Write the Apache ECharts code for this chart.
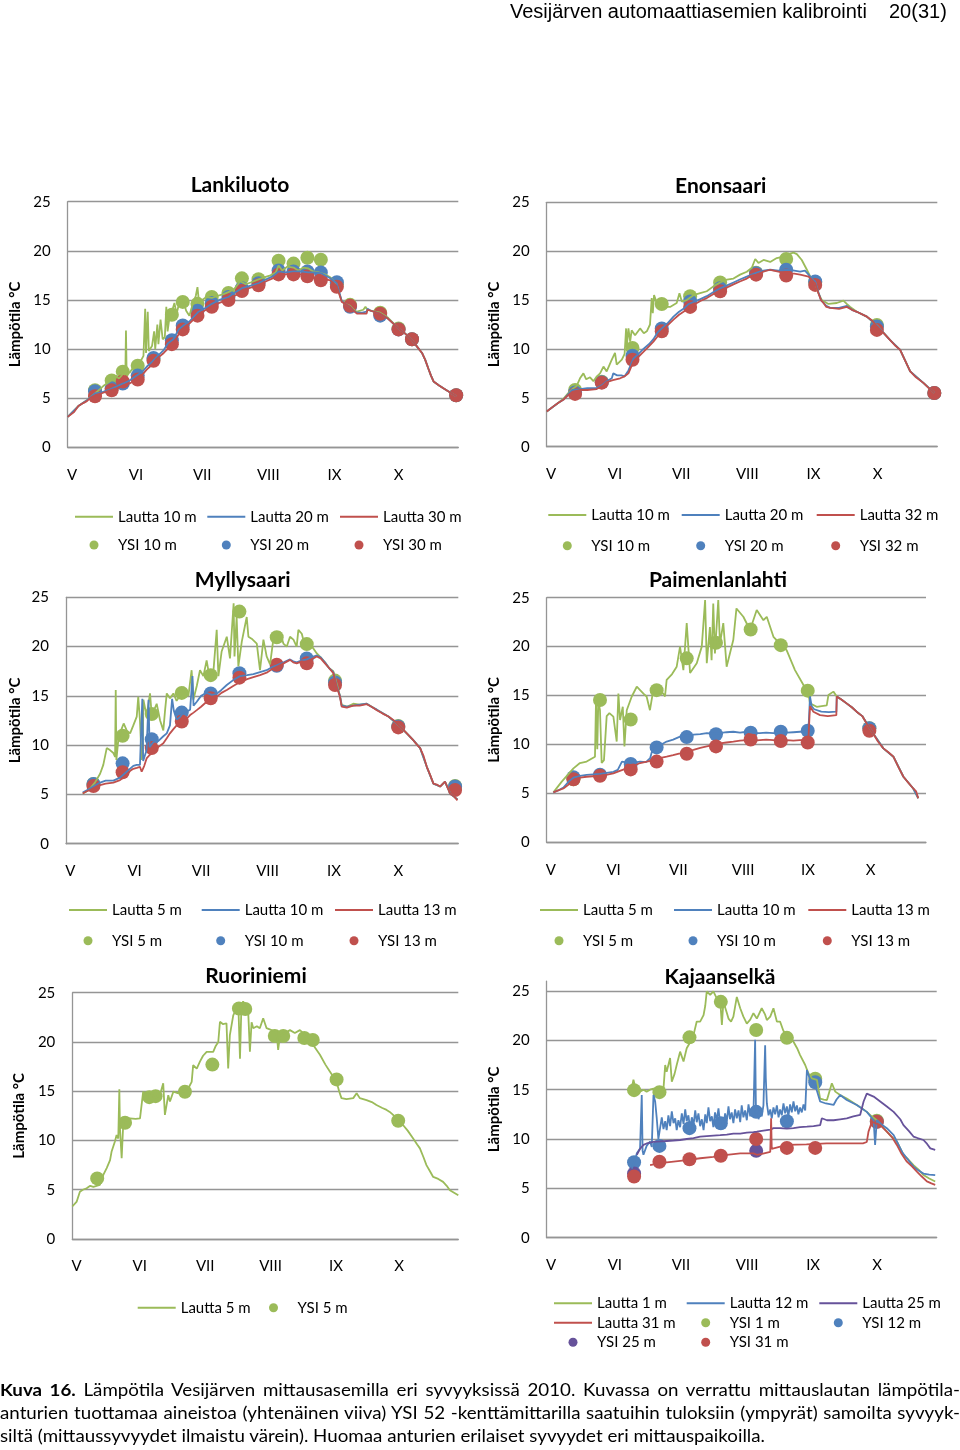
<!DOCTYPE html>
<html><head><meta charset="utf-8">
<script src="https://cdn.jsdelivr.net/npm/echarts@6/dist/echarts.min.js"></script>
<style>
html,body{margin:0;padding:0;background:#fff;}
#wrap{position:relative;width:960px;height:1450px;overflow:hidden;background:#fff;}
#chart{position:absolute;left:0;top:0;width:960px;height:1450px;}
.hdr{position:absolute;top:0;font-family:'Liberation Sans',Arial,sans-serif;font-size:20px;line-height:22px;color:#000;white-space:nowrap;}
#cap{position:absolute;left:0;top:1378px;font-family:Lato,sans-serif;font-size:17px;line-height:23px;color:#000;transform-origin:0 0;}
#cap .j{text-align:justify;text-align-last:justify;}
</style></head><body>
<div id="wrap">
<div id="chart"></div>
<div class="hdr" style="left:510px">Vesijärven automaattiasemien kalibrointi</div>
<div class="hdr" style="left:889px">20(31)</div>
<div id="cap">
<div class="j" id="c1"><b>Kuva 16.</b> Lämpötila Vesijärven mittausasemilla eri syvyyksissä 2010. Kuvassa on verrattu mittauslautan lämpötila-</div>
<div class="j" id="c2">anturien tuottamaa aineistoa (yhtenäinen viiva) YSI 52 -kenttämittarilla saatuihin tuloksiin (ympyrät) samoilta syvyyk-</div>
<div id="c3">siltä (mittaussyvyydet ilmaistu värein). Huomaa anturien erilaiset syvyydet eri mittauspaikoilla.</div>
</div>
</div>
<script>
// x values: days from the left edge of each plot (~29 April 2010); y: temperature °C
const monthTicks = [2, 32, 63, 94, 125, 155];
const monthLabels = ['V', 'VI', 'VII', 'VIII', 'IX', 'X'];

// ---------- Lankiluoto ----------
const lankiluotoLautta10 = [[0,3.1],[5,4.2],[9,4.8],[12.9,5.5],[15,5.9],[17,6.3],[19,6.6],[21,6.9],[22.5,7.3],[24,7.0],[26,7.5],[27,7.4],[27.3,11.9],[27.6,7.6],[29,7.6],[31,8.2],[33,8.4],[34.5,8.9],[35.5,9.3],[36.3,14.1],[36.7,9.6],[37.5,13.8],[38,9.8],[39.5,10.3],[40.5,11.8],[41,10.0],[42,12.5],[42.5,10.5],[43.5,13.0],[44.5,11.0],[45.5,11.2],[46.2,14.3],[46.8,11.8],[47.8,13.4],[48.8,13.8],[50,14.7],[51,13.6],[52.5,14.9],[54,15.0],[55.5,13.9],[57,13.4],[58.5,14.5],[60,15.4],[60.8,16.3],[61.5,14.8],[63,15.0],[65,15.3],[67.5,15.2],[70,15.4],[73,15.6],[75.3,15.8],[78,16.1],[80.8,16.9],[83.5,16.6],[86,16.8],[89.4,17.1],[92,17.3],[95,17.5],[97.5,17.8],[98.8,18.5],[100.5,18.0],[103,18.4],[105.8,18.3],[108,18.0],[110.5,18.3],[112.8,18.2],[115,17.9],[117.5,17.8],[120.5,17.6],[123,17.3],[126,16.6],[127.2,15.7],[128.4,14.9],[130,14.6],[132.3,14.4],[134,14.0],[135.5,13.8],[138.5,14.0],[139.5,14.3],[140.5,14.0],[142,13.9],[146.4,13.7],[150,13.2],[155,12.1],[158,11.6],[161.3,10.9],[163.5,10.3],[166,9.6],[167.5,8.9],[169,8.0],[170.2,7.3],[171.4,6.7],[174,6.3],[176,6.0],[179,5.6],[182,5.2]];
const lankiluotoLautta20 = [[0,3.1],[5,4.2],[9,4.8],[12.9,5.5],[16,5.6],[19.8,5.9],[23,6.2],[26.1,6.5],[29,6.8],[32.3,7.3],[35,7.7],[37,8.2],[39.5,8.7],[41.7,9.2],[45,9.9],[47,10.6],[49.5,11.0],[52,12.0],[54.2,12.4],[57,12.8],[61.3,13.8],[64,14.1],[67.5,14.6],[71,15.0],[75.3,15.3],[78,15.7],[81.6,16.2],[85,16.4],[89.4,16.7],[93,17.1],[96,17.4],[98.8,17.9],[102,17.8],[105.8,17.9],[109,17.9],[112.8,17.8],[116,17.8],[119,17.7],[123,17.2],[126,16.7],[127.2,15.8],[128.4,14.9],[130,14.6],[132.3,14.3],[134,13.9],[135.5,13.7],[138,13.7],[140,13.8],[140.5,14.1],[142,13.9],[146.4,13.6],[150,13.1],[155,12.1],[158,11.6],[161.3,10.9],[163.5,10.3],[166,9.6],[167.5,8.9],[169,8.0],[170.2,7.3],[171.4,6.7],[174,6.3],[176,6.0],[179,5.6],[182,5.2]];
const lankiluotoLautta30 = [[0,3.1],[3,3.6],[5,4.2],[7.3,4.5],[9,4.7],[11,5.1],[12.9,5.3],[16,5.5],[19.8,5.8],[23,6.0],[26.1,6.3],[29,6.5],[32.3,6.9],[35,7.4],[37,7.9],[39.5,8.4],[41.7,9.0],[45,9.6],[49.5,10.6],[52,11.5],[54.2,12.1],[57,12.6],[61.3,13.5],[64,13.9],[67.5,14.3],[71,14.7],[75.3,15.0],[78,15.4],[81.6,15.8],[85,16.2],[89.4,16.5],[93,16.9],[96,17.2],[98.8,17.5],[102,17.6],[105.8,17.7],[109,17.6],[112.8,17.4],[116,17.3],[119,17.2],[123,17.0],[126,16.4],[127.2,15.6],[128.4,14.8],[130,14.6],[132.3,14.3],[134,13.9],[135.5,13.6],[138,13.6],[140,13.6],[140.5,14.0],[142,13.9],[146.4,13.6],[150,13.1],[155,12.1],[158,11.6],[161.3,10.9],[163.5,10.3],[166,9.6],[167.5,8.9],[169,8.0],[170.2,7.3],[171.4,6.7],[174,6.3],[176,6.0],[179,5.6],[182,5.2]];
const lankiluotoYsi10 = [[12.8,5.8],[20.6,6.8],[25.8,7.7],[32.8,8.3],[40.2,9.0],[48.8,13.5],[53.9,14.8],[60.8,14.6],[67.5,15.3],[75.3,15.7],[81.6,17.2],[89.4,17.1],[98.8,19.0],[105.8,18.7],[112.3,19.3],[118.6,19.1],[126.1,16.6],[132.3,14.5],[146.4,13.7],[155,12.1],[161.3,11.0],[182,5.3]];
const lankiluotoYsi20 = [[12.8,5.7],[20.6,6.0],[25.8,6.5],[32.8,7.3],[40.2,9.1],[48.8,10.9],[53.9,12.4],[60.8,13.9],[67.5,14.7],[75.3,15.3],[81.6,16.2],[89.4,16.7],[98.8,18.0],[105.8,17.9],[112.3,17.9],[118.6,17.8],[126.1,16.8],[132.3,14.3],[146.4,13.4],[155,12.0],[161.3,11.0],[182,5.3]];
const lankiluotoYsi30 = [[12.8,5.2],[20.6,5.8],[25.8,6.7],[32.8,6.9],[40.2,8.8],[48.8,10.5],[53.9,12.0],[60.8,13.4],[67.5,14.3],[75.3,15.0],[81.6,15.9],[89.4,16.5],[98.8,17.6],[105.8,17.6],[112.3,17.4],[118.6,17.0],[126.1,16.35],[132.3,14.4],[146.4,13.6],[155,12.0],[161.3,11.0],[182,5.3]];

// ---------- Enonsaari ----------
const enonsaariLautta10 = [[0,3.6],[5.5,4.5],[7.8,4.9],[10.2,5.5],[12,5.9],[14,6.2],[15.6,7.0],[17.2,7.5],[18.5,6.9],[20.3,7.1],[21.9,6.7],[23.5,7.2],[25,7.5],[26.6,8.2],[28.1,7.7],[30.5,8.9],[32,9.6],[32.8,8.4],[35.2,8.9],[36.5,9.5],[37.2,12.1],[37.5,10.2],[38.3,12.1],[39.1,10.75],[39.8,11.9],[41.4,11.4],[43.75,12.1],[45.5,11.6],[46.9,11.8],[48.4,12.5],[49.2,15.2],[49.7,13.65],[50.3,15.5],[51.6,14.7],[54.7,14.3],[57.8,14.3],[60.9,14.7],[62.2,15.7],[63.3,14.85],[65.6,15.0],[68.75,15.5],[71.9,15.7],[75,15.9],[78.1,16.4],[81.25,16.8],[84.4,17.1],[87.5,17.2],[90.6,17.6],[93.75,17.9],[96.1,18.3],[97.7,19.2],[99.2,18.8],[101.6,19.1],[104.7,18.9],[107.8,19.3],[110.9,19.45],[113.3,19.7],[115.6,19.85],[117.2,19.7],[119.5,19.1],[121.9,18.1],[124.2,17.1],[125.8,16.8],[127.3,15.7],[128.9,15.0],[132,14.6],[135.9,14.7],[139,14.95],[140.6,14.6],[142.2,14.3],[145.3,13.8],[150,13.3],[154.7,12.4],[160.9,10.9],[165.6,9.9],[170.3,7.7],[176.6,6.5],[181.6,5.5]];
const enonsaariLautta20 = [[0,3.6],[5.5,4.5],[7.8,4.8],[10.2,5.4],[12,5.8],[15.6,5.9],[19,6.0],[23.4,6.0],[26,6.3],[28.1,6.7],[30.5,7.0],[31.2,7.5],[33,7.3],[35,7.3],[36.5,7.2],[38.3,7.8],[40.6,9.0],[43,9.5],[45.3,10.0],[48,10.5],[50,11.0],[52,11.7],[53.9,12.1],[56.5,12.6],[59.4,13.3],[62,13.8],[64.1,14.1],[66.5,14.6],[68.75,14.8],[72,15.1],[75,15.4],[78,15.8],[81.25,16.2],[84.5,16.5],[87.5,16.8],[90.5,17.1],[93.75,17.4],[96,17.6],[98.4,17.8],[101.5,18.0],[104.7,18.1],[108.5,18.0],[112.5,18.1],[116,18.0],[118.75,17.9],[121,18.0],[122.7,17.6],[124.5,17.1],[125.8,16.9],[127.3,15.8],[128.5,15.0],[129.7,14.7],[131,14.4],[132.8,14.2],[137,14.2],[140.6,14.4],[143,14.0],[145.3,13.8],[150,13.3],[154.7,12.4],[160.9,10.9],[165.6,9.9],[170.3,7.7],[176.6,6.5],[181.6,5.5]];
const enonsaariLautta32 = [[0,3.6],[3,4.1],[5.5,4.5],[7.8,4.8],[10.2,5.3],[12,5.6],[15.6,5.8],[19,5.8],[23.4,5.9],[26,6.2],[28.1,6.6],[31,6.8],[34.4,7.0],[36.5,7.2],[38.3,7.5],[40.6,8.7],[43,9.2],[45.3,9.7],[48,10.3],[50,10.75],[52,11.3],[53.9,11.8],[56.5,12.4],[59.4,13.0],[62,13.5],[64.1,13.8],[66.5,14.2],[68.75,14.5],[72,14.9],[75,15.2],[78,15.6],[81.25,15.9],[84.5,16.3],[87.5,16.6],[90.5,16.9],[93.75,17.2],[96,17.5],[98.4,17.6],[101.5,17.9],[104.7,18.1],[108.5,17.9],[112.5,17.7],[116,17.7],[118.75,17.6],[122.7,17.4],[124.5,17.0],[125.8,16.7],[127.3,15.7],[128.5,15.0],[129.7,14.7],[131,14.3],[132.8,14.2],[137,14.1],[140.6,14.3],[143,14.0],[145.3,13.8],[150,13.3],[152.5,12.9],[154.7,12.3],[158,11.6],[160.9,10.9],[163.5,10.3],[165.6,9.9],[167.5,9.0],[170.3,7.7],[173,7.1],[176.6,6.5],[179,6.0],[181.6,5.5]];
const enonsaariYsi10 = [[13.3,5.8],[25.8,6.65],[40.2,10.1],[53.9,14.6],[67.2,15.4],[81.25,16.8],[98.1,17.8],[112.2,19.2],[125.8,16.8],[154.7,12.45],[181.6,5.5]];
const enonsaariYsi20 = [[13.3,5.55],[25.8,6.6],[40.2,9.3],[53.9,12.1],[67.2,14.85],[81.25,16.2],[98.1,17.75],[112.2,18.1],[125.8,16.9],[154.7,12.3],[181.6,5.5]];
const enonsaariYsi32 = [[13.3,5.4],[25.8,6.55],[40.2,8.9],[53.9,11.8],[67.2,14.3],[81.25,15.9],[98.1,17.6],[112.2,17.5],[125.8,16.55],[154.7,11.95],[181.6,5.5]];

// ---------- Myllysaari ----------
const myllysaariLautta5 = [[7.8,5.1],[9.5,5.3],[11.2,5.6],[13.5,6.2],[15.9,7.1],[17.4,8.0],[19,9.7],[20.5,9.5],[22.1,9.2],[22.9,8.8],[23.2,15.6],[23.5,8.5],[24.4,10.5],[25.5,11.4],[26.9,12.2],[28.3,11.5],[29.9,11.2],[31.4,12.0],[33,12.9],[33.7,14.9],[34.5,12.5],[35.3,8.5],[35.8,9.0],[36.1,14.6],[37.6,13.0],[39.2,15.25],[40,13.0],[40.7,13.2],[42.3,14.2],[43.9,12.5],[45.4,11.5],[46.2,13.5],[47,15.25],[48.5,14.75],[50.1,15.25],[51.6,14.5],[53.2,15.0],[54.7,15.9],[57.1,15.0],[58.6,17.6],[59.4,14.6],[61,16.0],[62.5,17.6],[64.1,17.0],[65.6,18.6],[67.2,16.6],[68.7,17.3],[70.3,21.7],[71.1,17.0],[72.6,19.5],[75,21.0],[76.5,18.8],[78.2,24.4],[78.6,19.0],[79.6,23.0],[80.4,18.0],[82,20.5],[84.3,23.0],[85.1,21.0],[86.6,20.8],[89,20.3],[90.5,17.6],[92.1,20.7],[93.6,19.0],[95.2,18.2],[96.7,20.7],[99.8,21.5],[101.4,20.3],[103,20.0],[104.5,21.0],[106.1,20.7],[107.6,20.0],[108.4,21.7],[110,21.3],[110.7,20.7],[113.8,20.3],[117,19.3],[118.8,18.9],[120.8,18.4],[122.8,17.8],[124.7,17.5],[126.3,16.2],[127.8,15.0],[128.6,14.1],[131,13.9],[134,14.2],[137,14.1],[140.3,14.2],[145,13.6],[150.4,12.9],[155.8,11.9],[162,10.5],[165.2,9.7],[168.3,7.8],[171.4,6.1],[174.5,5.8],[176.8,6.3],[179.2,5.1],[182.6,4.5]];
const myllysaariLautta10 = [[7.8,5.2],[11.2,5.6],[13.5,5.9],[15.9,6.2],[18.5,6.4],[22.1,6.4],[25.2,6.7],[28.3,7.3],[31.4,7.9],[33,8.0],[34.5,8.0],[35.6,14.7],[36,8.4],[37.6,9.5],[38.5,14.6],[39,9.8],[40.7,10.3],[43,10.4],[45.4,10.9],[47,11.2],[48.5,12.0],[49.5,14.7],[50.3,13.5],[51.6,12.6],[53,12.8],[54.7,13.3],[56.3,13.4],[57.9,13.6],[59,17.0],[59.5,14.0],[61,14.4],[63,15.0],[65.6,15.3],[68,15.1],[70.3,15.2],[72.5,15.6],[75,16.1],[78,16.6],[81.2,17.0],[84.5,17.1],[87.4,17.2],[90.5,17.4],[93.6,17.6],[96,17.9],[98.3,18.1],[101.5,18.4],[104.5,18.7],[106,18.5],[107.6,18.4],[110,18.6],[112.3,18.7],[114.5,18.9],[117,19.1],[118.8,18.9],[120.8,18.4],[122.8,17.8],[124.7,17.4],[126.3,16.0],[127.8,15.0],[128.6,14.0],[131,13.9],[134,14.0],[137,14.1],[140.3,14.2],[142.5,13.9],[145,13.6],[150.4,12.9],[155.8,11.9],[162,10.5],[165.2,9.7],[168.3,7.8],[171.4,6.1],[174.5,5.8],[176.8,6.3],[179.2,5.1],[182.6,4.5]];
const myllysaariLautta13 = [[7.8,5.1],[9.5,5.3],[11.2,5.45],[13.5,5.7],[15.9,5.95],[18.5,6.1],[22.1,6.2],[25.2,6.45],[28.3,6.95],[30,7.4],[31.4,7.6],[33,7.7],[34.5,7.8],[35.3,7.3],[36.5,7.9],[37.6,8.65],[39,9.0],[40.7,9.3],[43,9.8],[45.4,10.2],[47,10.7],[48.5,11.2],[50,11.6],[51.6,12.0],[53,12.2],[54.7,12.4],[56.3,12.7],[57.9,13.05],[59.5,13.3],[61,13.55],[63,13.9],[65.6,14.4],[68,14.6],[70.3,14.9],[72.5,15.3],[75,15.6],[78,16.0],[81.2,16.4],[84.5,16.7],[87.4,16.9],[90.5,17.1],[93.6,17.35],[96,17.7],[98.3,17.95],[101.5,18.3],[104.5,18.65],[106,18.4],[107.6,18.3],[110,18.5],[112.3,18.4],[114.5,18.7],[117,19.0],[118.8,18.8],[120.8,18.3],[122.8,17.8],[124.7,17.3],[126.3,15.9],[127.8,14.9],[128.6,13.9],[131,13.8],[134,14.0],[137,14.0],[140.3,14.15],[142.5,13.9],[145,13.55],[147.7,13.2],[150.4,12.9],[153,12.5],[155.8,11.9],[159,11.2],[162,10.5],[163.5,10.1],[165.2,9.7],[166.8,8.9],[168.3,7.8],[170,6.9],[171.4,6.1],[173,6.0],[174.5,5.8],[176.8,6.3],[178,5.7],[179.2,5.1],[181,4.8],[182.6,4.4]];
const myllysaariYsi5 = [[12.8,6.05],[26.4,10.95],[40,13.15],[54,15.3],[67.5,17.1],[80.9,23.55],[98.3,20.95],[112.3,20.25],[125.5,16.55],[155,11.95],[181.5,5.85]];
const myllysaariYsi10 = [[12.8,6.05],[26.4,8.15],[40,10.6],[54,13.3],[67.5,15.25],[80.9,17.3],[98.3,18.05],[112.3,18.8],[125.5,16.35],[155,11.9],[181.5,5.8]];
const myllysaariYsi13 = [[12.8,5.85],[26.4,7.25],[40,9.7],[54,12.4],[67.5,14.75],[80.9,16.85],[98.3,18.15],[112.3,18.3],[125.5,16.1],[155,11.8],[181.5,5.45]];

// ---------- Paimenlanlahti ----------
const paimenLautta5 = [[3.2,5.1],[7.2,6.2],[12.8,7.55],[15.9,8.1],[19.1,8.25],[23.1,8.75],[23.6,14.6],[24.2,9.5],[24.7,14.4],[25.5,13.5],[26.3,8.1],[27.4,8.4],[28.7,12.9],[30,13.2],[31.9,12.85],[33.5,10.3],[34.3,15.2],[35.1,12.5],[36.4,13.85],[37.2,9.8],[38.3,13.5],[40.7,14.9],[43.1,15.9],[46.3,15.2],[47.8,14.9],[49.4,13.5],[51,15.55],[55.8,15.2],[56.6,14.9],[57.4,16.6],[60,17.2],[62.2,17.95],[63.8,20.0],[65.4,17.6],[67,22.4],[68.6,17.3],[71.8,18.3],[74.2,20.0],[75.8,24.75],[76.6,18.3],[78.1,22.0],[78.9,18.6],[79.7,24.4],[80.5,19.3],[82.1,24.75],[82.9,20.3],[84.5,22.4],[86.1,17.95],[89.3,20.7],[90.8,23.9],[94.1,23.05],[97.3,21.7],[100.5,23.75],[103.7,22.7],[105.3,23.05],[108.5,21.0],[111.6,20.3],[114.8,19.65],[118.8,17.6],[122.8,16.1],[125.2,15.2],[126,14.2],[129.2,13.85],[134,14.0],[134.8,15.05],[137.2,15.4],[138.8,14.9],[141,14.6],[143.5,14.2],[146,13.8],[148.3,13.35],[151,12.9],[153.1,12.15],[156.3,11.1],[161.1,9.6],[165.9,8.75],[170.7,6.7],[175.4,5.5],[177.8,4.5]];
const paimenLautta10 = [[3.2,5.1],[5.5,5.3],[8,5.6],[10.5,6.2],[12.8,6.6],[16,6.8],[19.1,6.9],[25.5,7.0],[31.9,7.2],[34,7.4],[36,8.25],[40,8.1],[44.7,8.25],[47.5,8.2],[49.5,8.6],[51,9.8],[54,9.9],[57.4,10.3],[60.5,10.5],[63.8,10.8],[67,10.9],[70.2,11.0],[73.5,11.05],[76.6,11.15],[80,11.1],[82.9,11.15],[86,11.25],[89.3,11.3],[92.5,11.2],[95.7,11.3],[99,11.15],[102,11.15],[105,11.2],[108.5,11.15],[111.5,11.25],[114.8,11.2],[118,11.25],[121.2,11.3],[125.2,11.3],[126,14.9],[126.8,13.9],[128,13.6],[131.4,13.35],[135,13.3],[138.6,13.35],[138.8,14.9],[141,14.6],[143.5,14.2],[146,13.8],[148.3,13.35],[151,12.9],[153.1,12.2],[156.3,11.1],[161.1,9.6],[165.9,8.75],[170.7,6.7],[175.4,5.5],[177.8,4.5]];
const paimenLautta13 = [[3.2,5.1],[5.5,5.3],[8,5.5],[10.5,5.9],[12.8,6.35],[16,6.6],[19.1,6.7],[22,6.75],[25.5,6.8],[28.5,6.9],[31.9,7.05],[35,7.3],[38.3,7.55],[41.5,7.8],[44.7,8.1],[48,8.25],[51,8.4],[54,8.6],[57.4,8.75],[60.5,8.9],[63.8,9.1],[67,9.3],[70.2,9.45],[73.5,9.65],[76.6,9.8],[80,9.95],[82.9,10.1],[86,10.2],[89.3,10.3],[92.5,10.4],[95.7,10.45],[99,10.4],[102,10.45],[105,10.5],[108.5,10.45],[111.5,10.4],[114.8,10.45],[118,10.4],[121.2,10.45],[125.2,10.45],[126,13.9],[127.6,13.35],[130.8,13.0],[134.5,12.9],[138.6,13.0],[138.8,14.9],[141,14.6],[143.5,14.2],[146,13.8],[148.3,13.35],[151,12.9],[153.1,12.15],[156.3,11.1],[158.5,10.3],[161.1,9.6],[163.5,9.2],[165.9,8.75],[168.5,7.6],[170.7,6.7],[173,6.1],[175.4,5.5],[176.8,5.2],[177.8,4.5]];
const paimenYsi5 = [[12.8,6.45],[25.5,14.55],[40.2,12.55],[52.6,15.55],[67,18.8],[81,20.4],[97.6,21.75],[112,20.15],[124.9,15.5],[154.4,11.65]];
const paimenYsi10 = [[12.8,6.65],[25.5,6.9],[40.2,8.0],[52.6,9.7],[67,10.75],[81,11.05],[97.6,11.2],[112,11.3],[124.9,11.4],[154.4,11.65]];
const paimenYsi13 = [[12.8,6.45],[25.5,6.8],[40.2,7.45],[52.6,8.25],[67,9.05],[81,9.8],[97.6,10.5],[112,10.35],[124.9,10.2],[154.4,11.4]];

// ---------- Ruoriniemi ----------
const ruoriLautta5 = [[0,3.3],[2.1,3.8],[3.6,4.8],[5,5.0],[6.8,5.15],[8.5,5.4],[10,5.3],[11.5,5.4],[13.1,5.5],[14.7,6.5],[16.3,7.2],[17.9,8.0],[18.6,8.85],[20.2,9.9],[21,10.55],[21.8,10.2],[22.3,15.2],[22.6,11.2],[23.4,8.2],[24.2,11.9],[25.5,12.0],[27.3,12.25],[30,12.2],[32.1,12.25],[33.6,14.95],[35.2,14.6],[36.8,14.95],[39,14.3],[41.5,14.6],[43.1,15.8],[43.9,12.6],[45.5,14.6],[46.3,13.95],[47.9,14.95],[50,14.8],[52.6,14.95],[55,15.3],[56.6,15.95],[57.3,17.65],[59,17.3],[60.5,18.0],[62,18.6],[63.7,19.0],[66.8,19.0],[68,19.6],[69.2,20.0],[70,22.05],[71.5,21.8],[73.1,21.9],[73.9,17.3],[74.7,20.7],[76.3,22.7],[77.9,23.4],[78.7,23.9],[79.5,18.3],[80.2,23.8],[81,24.1],[82.5,23.6],[83.4,23.05],[84.2,19.0],[85,22.0],[85.8,21.4],[87.5,21.6],[88.9,21.4],[90.5,22.4],[92.1,21.4],[94.5,21.2],[96.8,21.05],[97.6,19.2],[98.4,20.6],[100,20.85],[101.6,21.0],[103.2,21.2],[105.5,20.9],[107.9,21.2],[109.5,20.9],[111.1,20.35],[112.6,20.1],[114.2,19.7],[117.4,18.7],[120,17.7],[122.1,17.0],[125.3,15.95],[126.5,15.0],[127.6,14.3],[130,14.2],[133.2,14.3],[134.8,14.8],[136.3,14.3],[139.5,14.1],[142,13.9],[144.2,13.6],[147,13.3],[149,13.1],[150.5,12.9],[152.1,12.6],[154.5,12.0],[156.9,11.55],[159,11.0],[161.6,10.2],[163.5,9.6],[164.8,9.2],[166.5,8.3],[167.9,7.5],[169.5,6.9],[171.1,6.3],[173.5,6.1],[175.8,5.8],[177.5,5.4],[179,4.95],[181,4.7],[183,4.45]];
const ruoriYsi5 = [[11.8,6.15],[25,11.8],[36.5,14.4],[39.5,14.5],[53.4,14.95],[66.4,17.7],[79,23.4],[82,23.35],[96,20.6],[100,20.6],[110,20.4],[114,20.2],[125.3,16.2],[154.5,12.0]];

// ---------- Kajaanselkä ----------
const kajaLautta1 = [[39.9,15.1],[40.7,16.0],[41.5,15.3],[42.3,14.6],[43.8,14.8],[45.4,15.0],[46.9,14.8],[48.5,15.0],[50.1,15.1],[51.6,14.9],[53.2,14.6],[54.8,15.1],[55.6,17.5],[56.3,16.8],[57.9,18.2],[58.7,15.8],[60,16.6],[61,17.5],[62.6,18.85],[64.2,17.85],[65.7,19.2],[67.3,19.8],[68.9,20.55],[70.4,21.9],[72,21.9],[73.6,22.55],[74.4,23.5],[75.1,24.95],[76.7,24.6],[78.2,24.95],[79.8,24.25],[81.4,24.1],[82.2,21.55],[82.9,23.9],[84.5,22.8],[85.3,22.2],[86.5,21.9],[87.6,22.4],[89.2,24.4],[90.8,23.25],[92.3,22.4],[93.9,21.7],[95.5,22.1],[97,22.75],[98.6,22.2],[100.9,23.25],[102.5,22.6],[103.3,22.05],[104.9,22.4],[106.4,23.25],[108,21.9],[109.5,21.9],[111,21.0],[112.7,20.35],[114.3,20.1],[115.8,19.85],[117.5,19.2],[118.9,18.5],[121.3,17.5],[122.8,16.65],[124.4,16.15],[126.8,16.0],[128.3,14.1],[130,14.0],[131.5,13.95],[133.8,15.65],[135.4,14.8],[137.7,14.45],[140.8,14.1],[143,13.8],[145.5,13.45],[148,13.1],[150.2,12.75],[152.5,12.3],[154.9,11.9],[157,11.4],[159.6,10.75],[162,10.2],[164.3,9.75],[165.8,9.1],[167.4,8.4],[169.8,7.9],[172.1,7.35],[174.5,6.9],[176.8,6.35],[179.5,6.0],[182.3,5.7]];
const kajaLautta12 = [[39.9,7.0],[41.5,7.9],[42.3,8.55],[43.8,9.05],[44.6,14.45],[45,8.8],[45.4,8.4],[46.9,9.3],[48.5,9.75],[49.3,9.2],[50.1,14.45],[50.9,13.8],[51.6,12.2],[52.4,10.0],[53.2,11.1],[54,12.2],[54.8,11.0],[55.6,11.8],[56.3,10.9],[57.1,12.4],[57.9,11.3],[58.7,12.8],[59.5,11.6],[60.3,12.1],[61,10.9],[61.8,11.9],[62.6,11.2],[63.4,12.6],[64.2,11.5],[65,13.0],[65.7,11.8],[66.5,12.4],[67.3,11.0],[68.1,12.2],[68.9,11.4],[69.7,12.9],[70.4,11.7],[71.2,12.6],[72,11.3],[72.8,12.0],[73.6,10.9],[74.4,12.5],[75.1,11.6],[75.9,13.2],[76.7,11.8],[77.5,12.3],[78.2,11.2],[79,12.7],[79.8,11.9],[80.6,13.1],[81.4,11.5],[82.2,12.2],[82.9,11.1],[83.7,12.6],[84.5,11.8],[85.3,13.3],[86,12.0],[86.8,12.7],[87.6,11.6],[88.4,13.0],[89.2,12.1],[90,12.9],[90.8,11.7],[91.5,13.4],[92.3,12.2],[93.1,12.9],[93.9,11.9],[94.7,13.5],[95.5,12.3],[96.2,13.1],[97,12.4],[97.8,20.05],[98.2,12.6],[99,13.2],[99.4,12.0],[100.1,12.9],[100.9,12.3],[101.7,13.4],[102.5,19.5],[102.8,16.2],[103.3,13.6],[104.1,12.4],[104.9,13.0],[105.6,12.1],[106.4,13.2],[107.2,12.5],[108,13.4],[108.8,12.2],[109.5,13.0],[110.3,12.4],[111.1,13.6],[111.9,12.6],[112.7,13.3],[113.4,12.3],[114.2,13.5],[115,12.7],[115.8,13.8],[116.6,12.8],[117.4,13.4],[118.1,12.5],[118.9,13.2],[119.7,12.7],[120.5,13.5],[121.3,12.9],[122.1,17.0],[123.6,16.0],[125.2,15.65],[126.8,14.9],[128.3,13.8],[131,13.6],[134.6,13.45],[136,14.0],[137.7,14.45],[140.8,13.95],[145.5,13.45],[150.2,12.75],[153.4,11.9],[154.1,9.4],[154.9,11.9],[157,11.5],[159.6,11.1],[162.8,10.4],[164.3,9.75],[167,8.6],[169,8.05],[172.1,7.2],[174.5,6.8],[176.8,6.5],[179.5,6.4],[182.3,6.35]];
const kajaLautta25 = [[42.3,8.4],[43.8,9.0],[45.4,9.4],[46.9,9.55],[50,9.7],[53.2,9.75],[56.3,9.8],[59.5,9.85],[62.6,9.9],[65.7,10.0],[68.9,10.1],[72,10.25],[75.1,10.3],[78.2,10.35],[81.4,10.4],[84.5,10.45],[87.6,10.55],[90.8,10.55],[93.9,10.65],[97,10.7],[98.6,10.75],[101.7,10.85],[104.9,10.95],[106.4,11.1],[109.5,11.1],[112.7,11.05],[115.8,11.1],[118.9,11.2],[122.1,11.25],[125.2,11.3],[128.3,11.4],[129.1,12.1],[131.5,11.9],[134.6,11.9],[137.7,12.0],[140.8,12.1],[143.9,12.3],[147.1,12.45],[148.7,13.8],[150.2,14.6],[151.8,14.45],[153.4,14.3],[156.5,13.8],[159.6,13.3],[162.8,12.75],[165.9,12.0],[167.4,11.4],[170,10.8],[172.1,10.25],[174,10.1],[176.8,9.9],[178.5,9.5],[180,9.05],[182.3,8.9]];
const kajaLautta31 = [[48.5,7.35],[53.2,7.55],[59.5,7.7],[65.7,7.85],[72,8.05],[78.2,8.2],[84.5,8.4],[90.8,8.55],[97,8.55],[98.6,8.4],[101,8.5],[104.9,8.7],[105.3,12.1],[105.6,9.0],[106.4,9.2],[112.7,9.4],[121.9,9.45],[131.3,9.55],[140.6,9.55],[148.4,9.55],[150.2,9.7],[151,10.75],[152.6,11.75],[156.5,11.4],[159.6,10.75],[162,10.2],[164.3,9.4],[166.5,8.5],[169,7.7],[171.5,7.2],[173.7,6.7],[176,6.2],[178.4,5.7],[180.5,5.5],[182.3,5.35]];
const kajaYsi1 = [[41,14.95],[52.9,14.75],[67,20.3],[81.7,23.9],[98.3,21.05],[112.7,20.25],[126,16.1],[154.9,11.85]];
const kajaYsi12 = [[41,7.65],[52.9,9.3],[67,11.1],[81.7,11.6],[98.3,12.75],[112.7,11.8],[126,15.75],[154.9,11.75]];
const kajaYsi25 = [[41,6.5],[98.3,8.8]];
const kajaYsi31 = [[41,6.2],[52.9,7.7],[67,7.95],[81.7,8.3],[98.3,10.0],[112.7,9.1],[126,9.1],[154.9,11.75]];

// ---------- layout / styling ----------
const COLORS = {green: '#9BBB59', blue: '#4F81BD', red: '#C0504D', purple: '#66529A'};
const FONT = 'Lato, "Noto Sans", sans-serif';
const GRIDCOLOR = '#959595';
const LINE_ICON = 'path://M0,0H38V2H0Z';

const panels = [
  {id: 'P1', title: 'Lankiluoto', titleXY: [240, 185],
   grid: {left: 67.7, top: 201.7, width: 390.6, height: 245.6}, xMax: 183, yMax: 25, nameGap: 45,
   series: [['line', 'Lautta 10 m', lankiluotoLautta10, 'green'], ['line', 'Lautta 20 m', lankiluotoLautta20, 'blue'], ['line', 'Lautta 30 m', lankiluotoLautta30, 'red'],
            ['scatter', 'YSI 10 m', lankiluotoYsi10, 'green'], ['scatter', 'YSI 20 m', lankiluotoYsi20, 'blue'], ['scatter', 'YSI 30 m', lankiluotoYsi30, 'red']],
   legend: {top: 508.7, gap: 12.3, cols: [[75, ['Lautta 10 m', 'YSI 10 m']], [207.3, ['Lautta 20 m', 'YSI 20 m']], [340, ['Lautta 30 m', 'YSI 30 m']]]}},
  {id: 'P2', title: 'Enonsaari', titleXY: [720.7, 186],
   grid: {left: 546.7, top: 202.3, width: 390.6, height: 244.4}, xMax: 183, yMax: 25, nameGap: 45,
   series: [['line', 'Lautta 10 m', enonsaariLautta10, 'green'], ['line', 'Lautta 20 m', enonsaariLautta20, 'blue'], ['line', 'Lautta 32 m', enonsaariLautta32, 'red'],
            ['scatter', 'YSI 10 m', enonsaariYsi10, 'green'], ['scatter', 'YSI 20 m', enonsaariYsi20, 'blue'], ['scatter', 'YSI 32 m', enonsaariYsi32, 'red']],
   legend: {top: 507, gap: 14.7, cols: [[548.3, ['Lautta 10 m', 'YSI 10 m']], [681.7, ['Lautta 20 m', 'YSI 20 m']], [816.7, ['Lautta 32 m', 'YSI 32 m']]]}},
  {id: 'P3', title: 'Myllysaari', titleXY: [242.7, 580.7],
   grid: {left: 66, top: 597.3, width: 392.3, height: 246.4}, xMax: 183, yMax: 25, nameGap: 43,
   series: [['line', 'Lautta 5 m', myllysaariLautta5, 'green'], ['line', 'Lautta 10 m', myllysaariLautta10, 'blue'], ['line', 'Lautta 13 m', myllysaariLautta13, 'red'],
            ['scatter', 'YSI 5 m', myllysaariYsi5, 'green'], ['scatter', 'YSI 10 m', myllysaariYsi10, 'blue'], ['scatter', 'YSI 13 m', myllysaariYsi13, 'red']],
   legend: {top: 902, gap: 14.7, cols: [[69, ['Lautta 5 m', 'YSI 5 m']], [201.7, ['Lautta 10 m', 'YSI 10 m']], [335, ['Lautta 13 m', 'YSI 13 m']]]}},
  {id: 'P4', title: 'Paimenlanlahti', titleXY: [718, 580.7],
   grid: {left: 546.7, top: 597.7, width: 379.3, height: 244.6}, xMax: 181.5, yMax: 25, nameGap: 45,
   series: [['line', 'Lautta 5 m', paimenLautta5, 'green'], ['line', 'Lautta 10 m', paimenLautta10, 'blue'], ['line', 'Lautta 13 m', paimenLautta13, 'red'],
            ['scatter', 'YSI 5 m', paimenYsi5, 'green'], ['scatter', 'YSI 10 m', paimenYsi10, 'blue'], ['scatter', 'YSI 13 m', paimenYsi13, 'red']],
   legend: {top: 902, gap: 14.7, cols: [[540, ['Lautta 5 m', 'YSI 5 m']], [674, ['Lautta 10 m', 'YSI 10 m']], [808.3, ['Lautta 13 m', 'YSI 13 m']]]}},
  {id: 'P5', title: 'Ruoriniemi', titleXY: [256, 976.7],
   grid: {left: 72.3, top: 992.7, width: 386, height: 246.3}, xMax: 183, yMax: 25, nameGap: 46,
   series: [['line', 'Lautta 5 m', ruoriLautta5, 'green'], ['scatter', 'YSI 5 m', ruoriYsi5, 'green']],
   legend: {top: 1299.7, gap: 10, cols: [[137.7, ['Lautta 5 m']], [269, ['YSI 5 m']]]}},
  {id: 'P6', title: 'Kajaanselkä', titleXY: [720, 977.7],
   grid: {left: 546.7, top: 981.1, width: 390, height: 256.6}, xMax: 183, yMax: 26, nameGap: 45,
   series: [['line', 'Lautta 1 m', kajaLautta1, 'green'], ['line', 'Lautta 12 m', kajaLautta12, 'blue'], ['line', 'Lautta 25 m', kajaLautta25, 'purple'], ['line', 'Lautta 31 m', kajaLautta31, 'red'],
            ['scatter', 'YSI 1 m', kajaYsi1, 'green'], ['scatter', 'YSI 12 m', kajaYsi12, 'blue'], ['scatter', 'YSI 25 m', kajaYsi25, 'purple'], ['scatter', 'YSI 31 m', kajaYsi31, 'red']],
   legend: {top: 1295.3, gap: 3.5, cols: [[554, ['Lautta 1 m', 'Lautta 31 m', 'YSI 25 m']], [686.7, ['Lautta 12 m', 'YSI 1 m', 'YSI 31 m']], [819.3, ['Lautta 25 m', 'YSI 12 m']]]}}
];

const option = {animation: false, backgroundColor: '#fff', grid: [], xAxis: [], yAxis: [], series: [], legend: [], graphic: []};

panels.forEach((p, i) => {
  option.grid.push(Object.assign({containLabel: false, outerBoundsMode: 'none'}, p.grid));
  option.xAxis.push({
    gridIndex: i, type: 'value', min: 0, max: p.xMax,
    axisLine: {show: true, onZero: false, lineStyle: {color: GRIDCOLOR, width: 1.3}},
    axisTick: {show: false}, splitLine: {show: false},
    axisLabel: {customValues: monthTicks, formatter: v => monthLabels[monthTicks.indexOf(v)] || '',
                fontFamily: FONT, fontSize: 15, color: '#000', margin: 20, hideOverlap: false}
  });
  option.yAxis.push({
    gridIndex: i, type: 'value', min: 0, max: p.yMax, interval: 5,
    name: 'Lämpötila °C', nameLocation: 'middle', nameGap: p.nameGap,
    nameTextStyle: {fontFamily: FONT, fontWeight: 'bold', fontSize: 15, color: '#000'},
    axisLine: {show: true, lineStyle: {color: GRIDCOLOR, width: 1.3}}, axisTick: {show: false},
    axisLabel: {fontFamily: FONT, fontSize: 15, color: '#000', margin: 17, showMaxLabel: p.yMax % 5 === 0,
                formatter: v => (v % 5 === 0 ? String(v) : '')},
    splitLine: {show: true, showMaxLine: p.yMax % 5 === 0,
                lineStyle: {color: p.yMax % 5 === 0 ? GRIDCOLOR : [GRIDCOLOR, GRIDCOLOR, GRIDCOLOR, GRIDCOLOR, GRIDCOLOR, GRIDCOLOR, 'rgba(0,0,0,0)'], width: 1.3}}
  });
  const lineNames = {};
  p.series.forEach(([type, label, data, col]) => {
    const name = p.id + '|' + label;
    if (type === 'line') {
      lineNames[label] = true;
      option.series.push({type: 'line', name, xAxisIndex: i, yAxisIndex: i, data, symbol: 'none', showSymbol: false,
        lineStyle: {width: 1.8, color: COLORS[col]}, itemStyle: {color: COLORS[col]}, silent: true});
    } else {
      option.series.push({type: 'scatter', name, xAxisIndex: i, yAxisIndex: i, data, symbol: 'circle', symbolSize: 14,
        itemStyle: {color: COLORS[col], opacity: 1}, silent: true});
    }
  });
  p.legend.cols.forEach(([left, names]) => {
    option.legend.push({
      orient: 'vertical', left, top: p.legend.top, padding: 0, itemGap: p.legend.gap,
      itemWidth: 38, itemHeight: 9, selectedMode: false,
      data: names.map(n => lineNames[n] ? {name: p.id + '|' + n, icon: LINE_ICON} : {name: p.id + '|' + n, icon: 'circle'}),
      formatter: n => n.split('|')[1],
      textStyle: {fontFamily: FONT, fontSize: 15, color: '#000', lineHeight: 16}
    });
  });
  option.graphic.push({type: 'text', x: p.titleXY[0], y: p.titleXY[1], silent: true,
    style: {text: p.title, font: 'bold 21px ' + FONT, fill: '#000', textAlign: 'center', textVerticalAlign: 'middle'}});
});

const chart = echarts.init(document.getElementById('chart'), null, {renderer: 'canvas'});
chart.setOption(option);

// caption layout: condense to the reference line width
(function () {
  const cap = document.getElementById('cap');
  const l3 = document.getElementById('c3');
  const span = document.createElement('span');
  span.innerHTML = l3.innerHTML;
  span.style.whiteSpace = 'nowrap';
  cap.appendChild(span);
  const w3 = span.getBoundingClientRect().width;
  cap.removeChild(span);
  const s = 765 / w3;
  cap.style.width = (960 / s) + 'px';
  cap.style.transform = 'scaleX(' + s + ')';
})();
</script>
</body></html>
